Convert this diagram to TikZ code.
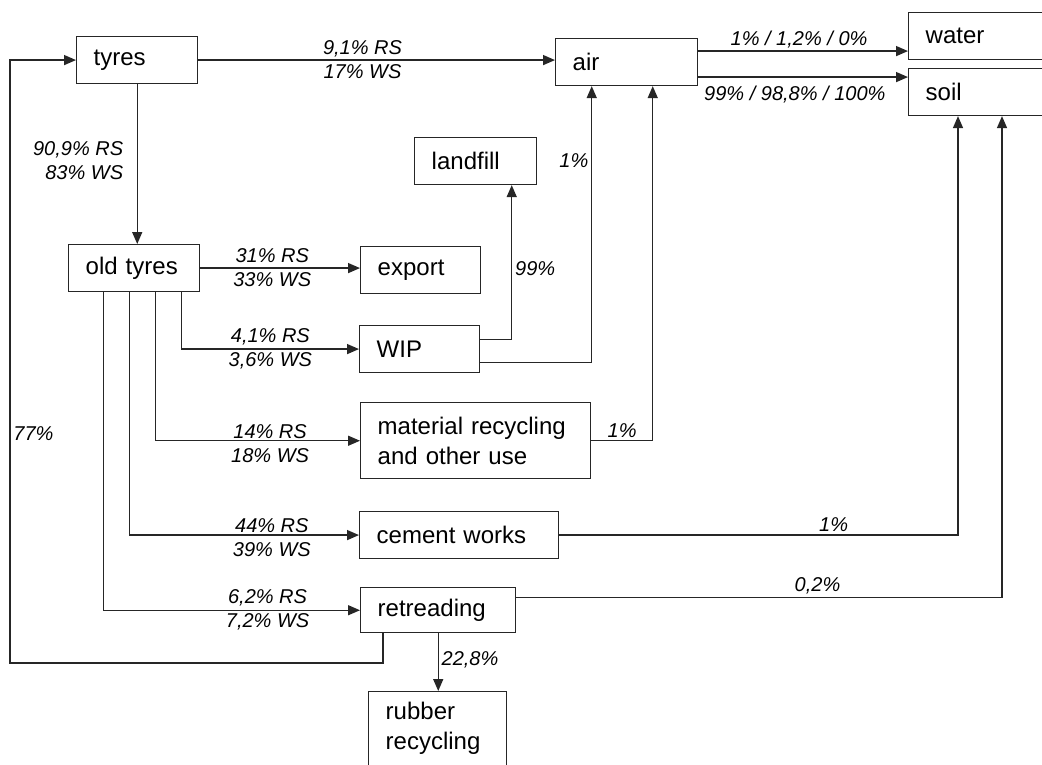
\documentclass[tikz,border=0pt]{standalone}
\usepackage{fontspec}
\setmainfont{Liberation Sans}
\usetikzlibrary{arrows.meta}
\definecolor{ink}{HTML}{262626}

\begin{document}
\begin{tikzpicture}[
  x=0.75pt,y=-0.75pt,
  >={Triangle[length=9pt,width=7.5pt]},
  box/.style={draw=ink,line width=1.1pt,anchor=north west,align=left,text width=#1,
    inner xsep=12.75pt,inner ysep=0pt,minimum height=35pt,
    font=\fontsize{18}{22.5}\selectfont},
  flow/.style={draw=ink,line width=1.1pt,->},
  lab/.style={font=\fontsize{15}{18}\selectfont\itshape,align=center,inner sep=2pt}
]
\path[use as bounding box,fill=white] (0,0) rectangle (1042,764);
\clip (0,0) rectangle (1042,764);

\node[box=65.25pt] (tyres) at (76,36) {tyres};
\node[box=81pt] (air) at (555,38) {air};
\node[box=90pt] (water) at (908,12) {water};
\node[box=90pt] (soil) at (908,68) {soil};
\node[box=66pt] (landfill) at (414,137) {landfill};
\node[box=72.75pt] (oldtyres) at (68,244) {old tyres};
\node[box=64.5pt] (export) at (360,246) {export};
\node[box=64.5pt] (wip) at (359,325) {WIP};
\node[box=147pt,minimum height=57pt] (material) at (360,402) {material recycling\\and other use};
\node[box=123.75pt] (cement) at (359,511) {cement works};
\node[box=90.75pt,minimum height=33.75pt] (retreading) at (360,587) {retreading};
\node[box=78pt,minimum height=55.5pt] (rubber) at (368,691) {rubber\\recycling};

\coordinate (airhi) at ([yshift=8.25pt]air.east);
\coordinate (airlo) at ([yshift=-11.25pt]air.east);
\coordinate (back) at (10,663);

\draw[flow] (tyres.east) -- node[lab,pos=.46] {9,1\% RS\\17\% WS} (tyres.east -| air.west);
\draw[flow] (airhi) -- node[lab,above,pos=.48] {1\% / 1,2\% / 0\%} (airhi -| water.west);
\draw[flow] (airlo) -- node[lab,below,pos=.46,yshift=-4.5pt] {99\% / 98,8\% / 100\%} (airlo -| soil.west);
\draw[flow] (tyres.south) -- node[lab,anchor=east,align=right,pos=.48,xshift=-8pt] {90,9\% RS\\83\% WS} (tyres.south |- oldtyres.north);
\draw[flow] (oldtyres.east) -- node[lab,pos=.45] {31\% RS\\33\% WS} (oldtyres.east -| export.west);
\draw[flow] ([xshift=35.6pt]oldtyres.south) |- node[lab,pos=.75] {4,1\% RS\\3,6\% WS} (wip.west);
\draw[flow] ([xshift=16.1pt]oldtyres.south) |- node[lab,pos=.78,yshift=-2pt] {14\% RS\\18\% WS} (material.west);
\draw[flow] ([xshift=-3.4pt]oldtyres.south) |- node[lab,pos=.81,yshift=-2pt] {44\% RS\\39\% WS} (cement.west);
\draw[flow] ([xshift=-23.25pt]oldtyres.south) |- node[lab,pos=.82] {6,2\% RS\\7,2\% WS} (retreading.west);
\draw[flow] ([yshift=7.1pt]wip.east) -| node[lab,right,pos=.73] {99\%} ([xshift=27pt]landfill.south);
\draw[flow] ([yshift=-10.1pt]wip.east) -| node[lab,left,pos=.865] {1\%} ([xshift=-26.25pt]air.south);
\draw[flow] (material.east) -| node[lab,above,pos=.25] {1\%} ([xshift=19.5pt]air.south);
\draw[flow] (cement.east) -| node[lab,above,pos=.344] {1\%} ([xshift=37.5pt]soil.south west);
\draw[flow] ([yshift=9.4pt]retreading.east) -| node[lab,above,pos=.31] {0,2\%} ([xshift=70.5pt]soil.south west);
\draw[flow] ([xshift=17.25pt]retreading.south west) |- (back) |- node[lab,right,pos=.19] {77\%} (tyres.west);
\draw[flow] (retreading.south) -- node[lab,right,pos=.46] {22,8\%} (retreading.south |- rubber.north);
\end{tikzpicture}
\end{document}
